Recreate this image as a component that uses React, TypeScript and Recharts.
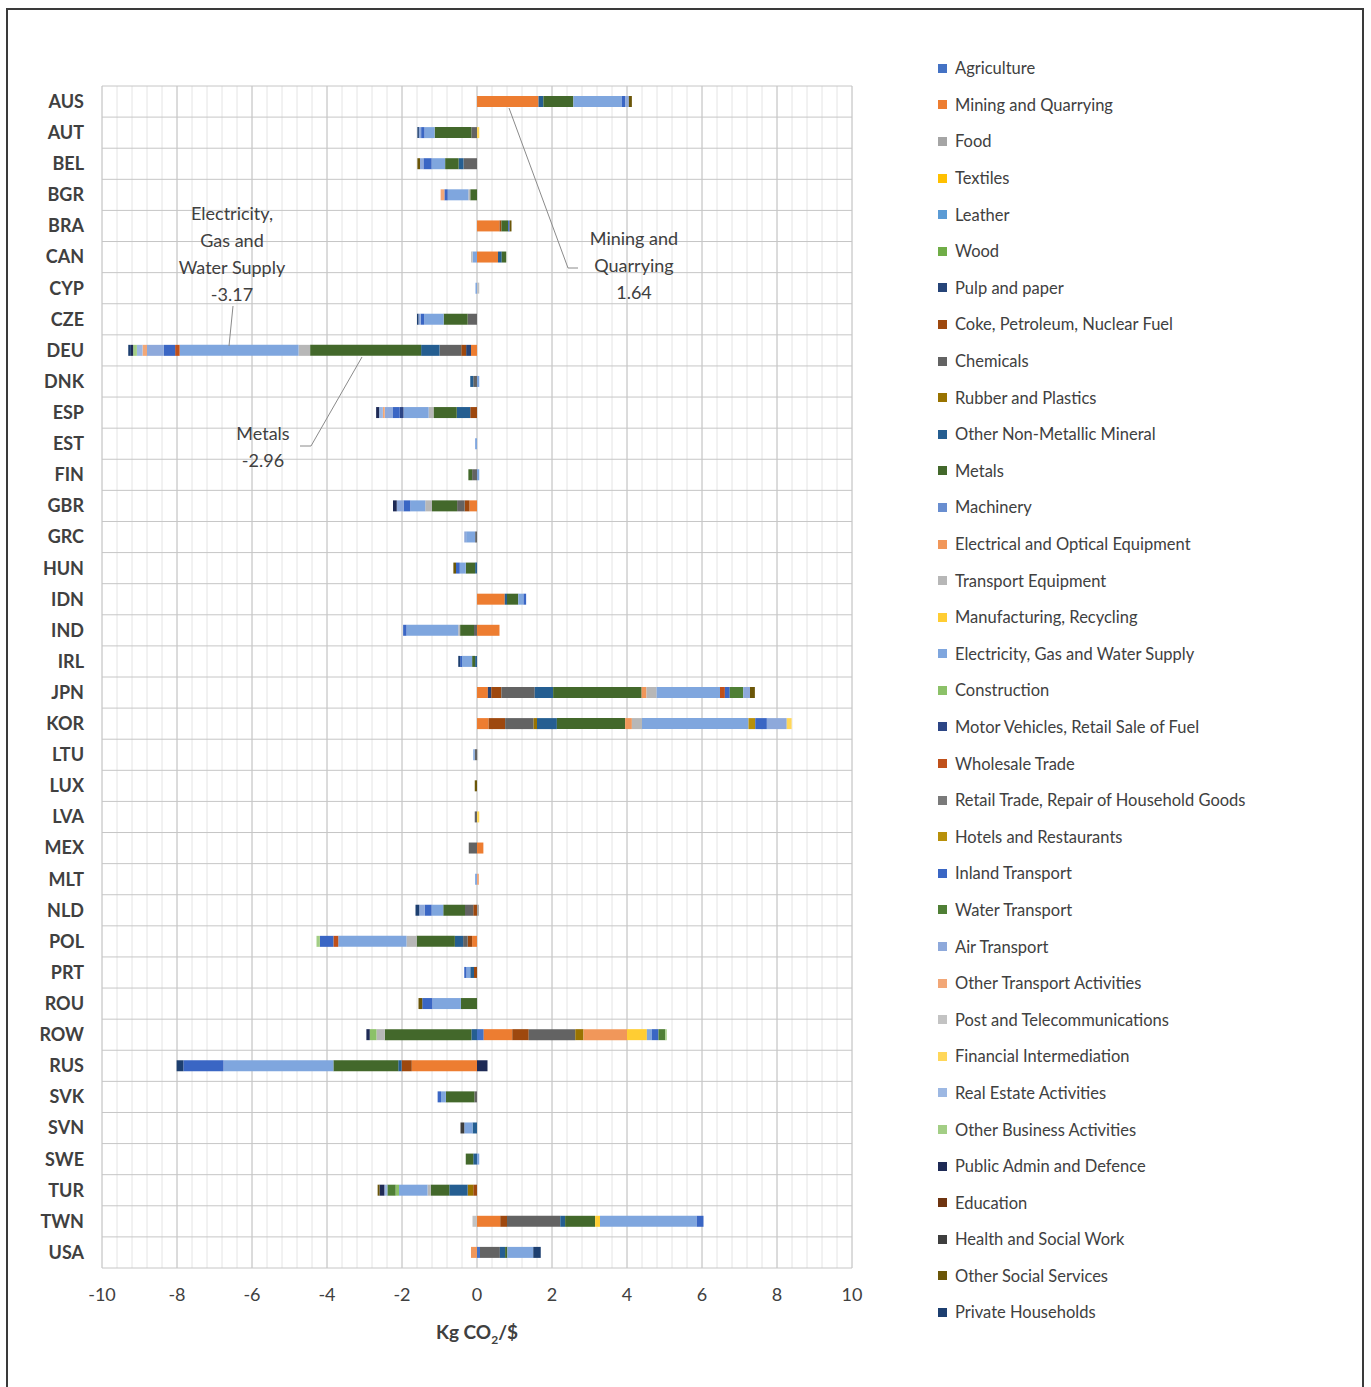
import { Bar, BarChart, CartesianGrid, XAxis, YAxis } from "recharts";

const COUNTRIES = [
  "AUS", "AUT", "BEL", "BGR", "BRA", "CAN", "CYP", "CZE", "DEU", "DNK", "ESP", "EST", "FIN",
  "GBR", "GRC", "HUN", "IDN", "IND", "IRL", "JPN", "KOR", "LTU", "LUX", "LVA", "MEX", "MLT",
  "NLD", "POL", "PRT", "ROU", "ROW", "RUS", "SVK", "SVN", "SWE", "TUR", "TWN", "USA",
];

const SECTOR_KEYS = [
  "agr", "min", "food", "tex", "lea", "wood", "pulp", "coke", "chem", "rub", "nmm", "met",
  "mach", "elo", "treq", "manu", "elec", "cons", "motor", "whole", "retail", "hotel", "inland",
  "water", "air", "otr", "post", "fin", "real", "obus", "pub", "edu", "health", "osoc", "hh",
];

const SECTOR_NAMES = [
  "Agriculture", "Mining and Quarrying", "Food", "Textiles", "Leather", "Wood", "Pulp and paper",
  "Coke, Petroleum, Nuclear Fuel", "Chemicals", "Rubber and Plastics", "Other Non-Metallic Mineral",
  "Metals", "Machinery", "Electrical and Optical Equipment", "Transport Equipment",
  "Manufacturing, Recycling", "Electricity, Gas and Water Supply", "Construction",
  "Motor Vehicles, Retail Sale of Fuel", "Wholesale Trade", "Retail Trade, Repair of Household Goods",
  "Hotels and Restaurants", "Inland Transport", "Water Transport", "Air Transport",
  "Other Transport Activities", "Post and Telecommunications", "Financial Intermediation",
  "Real Estate Activities", "Other Business Activities", "Public Admin and Defence", "Education",
  "Health and Social Work", "Other Social Services", "Private Households",
];

const SECTOR_COLORS = [
  "#4472C4", "#ED7D31", "#A5A5A5", "#FFC000", "#5B9BD5", "#70AD47", "#264478", "#9E480E",
  "#636363", "#997300", "#255E91", "#43682B", "#698ED0", "#F1975A", "#B7B7B7", "#FFCD33",
  "#7FA6DE", "#8CC168", "#2C4585", "#C0501A", "#7A7A7A", "#B8900A", "#3A66C4", "#4F7F35",
  "#8EA9DB", "#F2A777", "#C3C3C3", "#FFD75A", "#9DB8E3", "#A3CE85", "#1E2A55", "#6E3410",
  "#3E3E3E", "#6B5608", "#1D3F70",
];

type Values = Partial<Record<string, number>>;

const AUS: Values = { min: 1.64, nmm: 0.13, met: 0.8, elec: 1.29, inland: 0.09, air: 0.1, osoc: 0.08 };
const AUT: Values = { chem: -0.15, met: -0.98, elec: -0.27, inland: -0.09, air: -0.06, hh: -0.04, fin: 0.06 };
const BEL: Values = { chem: -0.36, nmm: -0.13, met: -0.36, elec: -0.36, inland: -0.22, air: -0.09, osoc: -0.07 };
const BGR: Values = { met: -0.18, treq: -0.05, elec: -0.55, inland: -0.09, otr: -0.1 };
const BRA: Values = { min: 0.6, coke: 0.05, met: 0.18, inland: 0.04, osoc: 0.05 };
const CAN: Values = { min: 0.56, nmm: 0.1, met: 0.12, elec: -0.12, post: -0.04 };
const CYP: Values = { elec: -0.04, post: 0.06 };
const CZE: Values = { chem: -0.25, met: -0.64, elec: -0.52, inland: -0.09, air: -0.06, hh: -0.04 };
const DEU: Values = {
  min: -0.16, pulp: -0.13, coke: -0.13, chem: -0.58, nmm: -0.49, met: -2.96, treq: -0.31, elec: -3.17,
  whole: -0.12, inland: -0.3, air: -0.45, otr: -0.12, real: -0.15, obus: -0.1, pub: -0.06, hh: -0.07,
};
const DNK: Values = { chem: -0.1, nmm: -0.08, elec: 0.06 };
const ESP: Values = {
  coke: -0.18, nmm: -0.36, met: -0.62, treq: -0.13, elec: -0.67, motor: -0.1, inland: -0.18, air: -0.22,
  otr: -0.05, real: -0.1, pub: -0.08,
};
const EST: Values = { elec: -0.05 };
const FIN: Values = { chem: -0.13, met: -0.1, elec: 0.06 };
const GBR: Values = {
  min: -0.2, coke: -0.13, chem: -0.2, met: -0.67, treq: -0.18, elec: -0.4, inland: -0.18, air: -0.18, pub: -0.1,
};
const GRC: Values = { chem: -0.05, elec: -0.24, air: -0.05 };
const HUN: Values = { nmm: -0.05, met: -0.25, elec: -0.16, inland: -0.1, osoc: -0.07 };
const IDN: Values = { min: 0.74, nmm: 0.06, met: 0.3, elec: 0.14, inland: 0.07 };
const IND: Values = { chem: -0.08, met: -0.37, treq: -0.05, elec: -1.38, inland: -0.09, min: 0.6 };
const IRL: Values = { nmm: -0.05, met: -0.08, elec: -0.27, inland: -0.05, hh: -0.05 };
const JPN: Values = {
  min: 0.29, pulp: 0.09, coke: 0.27, chem: 0.89, nmm: 0.49, met: 2.36, elo: 0.13, treq: 0.27, elec: 1.69,
  whole: 0.13, inland: 0.13, water: 0.36, air: 0.18, osoc: 0.13,
};
const KOR: Values = {
  min: 0.31, coke: 0.44, chem: 0.76, rub: 0.09, nmm: 0.53, met: 1.82, elo: 0.18, treq: 0.27, elec: 2.84,
  hotel: 0.18, inland: 0.31, air: 0.53, fin: 0.13,
};
const LTU: Values = { chem: -0.06, elec: -0.04, post: 0.03 };
const LUX: Values = { osoc: -0.06 };
const LVA: Values = { chem: -0.06, fin: 0.06 };
const MEX: Values = { chem: -0.22, min: 0.17 };
const MLT: Values = { elec: -0.05, otr: 0.05 };
const NLD: Values = { coke: -0.1, chem: -0.22, met: -0.58, elec: -0.31, inland: -0.18, air: -0.15, hh: -0.1, food: 0.05 };
const POL: Values = {
  min: -0.13, coke: -0.12, chem: -0.12, nmm: -0.22, met: -1.02, treq: -0.27, elec: -1.82, whole: -0.13,
  inland: -0.36, obus: -0.09,
};
const PRT: Values = { coke: -0.08, nmm: -0.1, elec: -0.1, inland: -0.06 };
const ROU: Values = { met: -0.43, elec: -0.76, inland: -0.27, osoc: -0.1 };
const ROW: Values = {
  nmm: -0.15, met: -2.31, treq: -0.22, cons: -0.18, pub: -0.09,
  agr: 0.18, min: 0.76, coke: 0.44, chem: 1.24, rub: 0.22, elo: 1.16, manu: 0.53, elec: 0.13, inland: 0.18,
  water: 0.18, obus: 0.04,
};
const RUS: Values = { min: -1.74, coke: -0.27, nmm: -0.09, met: -1.73, elec: -2.93, inland: -1.07, hh: -0.18, pub: 0.28 };
const SVK: Values = { chem: -0.07, met: -0.76, elec: -0.13, inland: -0.09 };
const SVN: Values = { nmm: -0.12, elec: -0.22, health: -0.1 };
const SWE: Values = { nmm: -0.1, met: -0.2, elec: 0.06 };
const TUR: Values = {
  coke: -0.1, rub: -0.15, nmm: -0.49, met: -0.49, treq: -0.09, elec: -0.76, cons: -0.09, water: -0.22,
  real: -0.08, pub: -0.13, osoc: -0.05,
};
const TWN: Values = { post: -0.12, min: 0.62, coke: 0.18, chem: 1.42, nmm: 0.13, met: 0.8, manu: 0.13, elec: 2.58, inland: 0.18 };
const USA: Values = { elo: -0.16, agr: 0.08, nmm: 0.14, chem: 0.53, met: 0.06, elec: 0.69, hh: 0.2 };

const COUNTRY_VALUES: Record<string, Values> = {
  AUS, AUT, BEL, BGR, BRA, CAN, CYP, CZE, DEU, DNK, ESP, EST, FIN, GBR, GRC, HUN, IDN, IND, IRL, JPN,
  KOR, LTU, LUX, LVA, MEX, MLT, NLD, POL, PRT, ROU, ROW, RUS, SVK, SVN, SWE, TUR, TWN, USA,
};

const X_TICKS = [-10, -8, -6, -4, -2, 0, 2, 4, 6, 8, 10];

const rows = COUNTRIES.map((country) => {
  const row: Record<string, string | number> = { country };
  SECTOR_KEYS.forEach((k) => {
    row[k] = COUNTRY_VALUES[country][k] ?? 0;
  });
  return row;
});

const TEXT = "#404040";
const FONT = "Lato, 'Open Sans', sans-serif";

function gridLines(start: number, size: number, n: number) {
  return Array.from({ length: n + 1 }, (_, i) => start + (size * i) / n);
}

export default function App() {
  return (
    <div style={{ position: "absolute", left: 0, top: 0, width: 1371, height: 1387, background: "#fff", fontFamily: FONT }}>
      <div
        style={{
          position: "absolute",
          left: 6,
          top: 8,
          width: 1358,
          height: 1390,
          border: "2px solid #3a3a3a",
          boxSizing: "border-box",
        }}
      />
      <div style={{ position: "absolute", left: 0, top: 0 }}>
        <BarChart
          layout="vertical"
          width={1371}
          height={1387}
          data={rows}
          stackOffset="sign"
          margin={{ top: 86, right: 519, bottom: 79, left: 0 }}
        >
          <CartesianGrid
            stroke="#E4E4E4"
            horizontal={false}
            verticalCoordinatesGenerator={({ offset }: any) => gridLines(offset.left, offset.width, 50)}
          />
          <CartesianGrid
            stroke="#C6C6C6"
            verticalCoordinatesGenerator={({ offset }: any) => gridLines(offset.left, offset.width, 10)}
            horizontalCoordinatesGenerator={({ offset }: any) => gridLines(offset.top, offset.height, COUNTRIES.length)}
          />
          <XAxis
            type="number"
            domain={[-10, 10]}
            ticks={X_TICKS}
            axisLine={false}
            tickLine={false}
            tickMargin={14}
            height={40}
            tick={{ fontSize: 18, fill: TEXT }}
          />
          <YAxis
            type="category"
            dataKey="country"
            width={102}
            axisLine={false}
            tickLine={false}
            tickMargin={12}
            interval={0}
            tick={{ fontSize: 18, fill: TEXT, fontWeight: 700 }}
          />
          {SECTOR_KEYS.map((k, i) => (
            <Bar key={k} dataKey={k} name={SECTOR_NAMES[i]} stackId="s" fill={SECTOR_COLORS[i]} barSize={11} isAnimationActive={false} />
          ))}
        </BarChart>
      </div>

      <svg width={1371} height={1387} style={{ position: "absolute", left: 0, top: 0, pointerEvents: "none" }}>
        <g fill={TEXT} fontSize={18} textAnchor="middle">
          <text x={232} y={220}>Electricity,</text>
          <text x={232} y={247}>Gas and</text>
          <text x={232} y={274}>Water Supply</text>
          <text x={232} y={301}>-3.17</text>
          <text x={263} y={440}>Metals</text>
          <text x={263} y={467}>-2.96</text>
          <text x={634} y={245}>Mining and</text>
          <text x={634} y={272}>Quarrying</text>
          <text x={634} y={299}>1.64</text>
        </g>
        <g stroke="#8a8a8a" strokeWidth={1} fill="none">
          <polyline points="233,306 229,346" />
          <polyline points="300,446 311,446 362,357" />
          <polyline points="509,108 568,268 578,268" />
        </g>
      </svg>

      <div
        style={{
          position: "absolute",
          left: 477,
          top: 1320,
          transform: "translateX(-50%)",
          fontSize: 19,
          fontWeight: 700,
          color: TEXT,
          whiteSpace: "nowrap",
        }}
      >
        Kg CO<sub style={{ fontSize: 12 }}>2</sub>/$
      </div>

      <div style={{ position: "absolute", left: 938, top: 50 }}>
        {SECTOR_NAMES.map((name, i) => (
          <div key={name} style={{ display: "flex", alignItems: "center", height: 36.6, fontSize: 16.5, color: TEXT }}>
            <span style={{ width: 9, height: 9, background: SECTOR_COLORS[i], marginRight: 8, flexShrink: 0 }} />
            <span style={{ whiteSpace: "nowrap", lineHeight: "20px" }}>{name}</span>
          </div>
        ))}
      </div>
    </div>
  );
}
